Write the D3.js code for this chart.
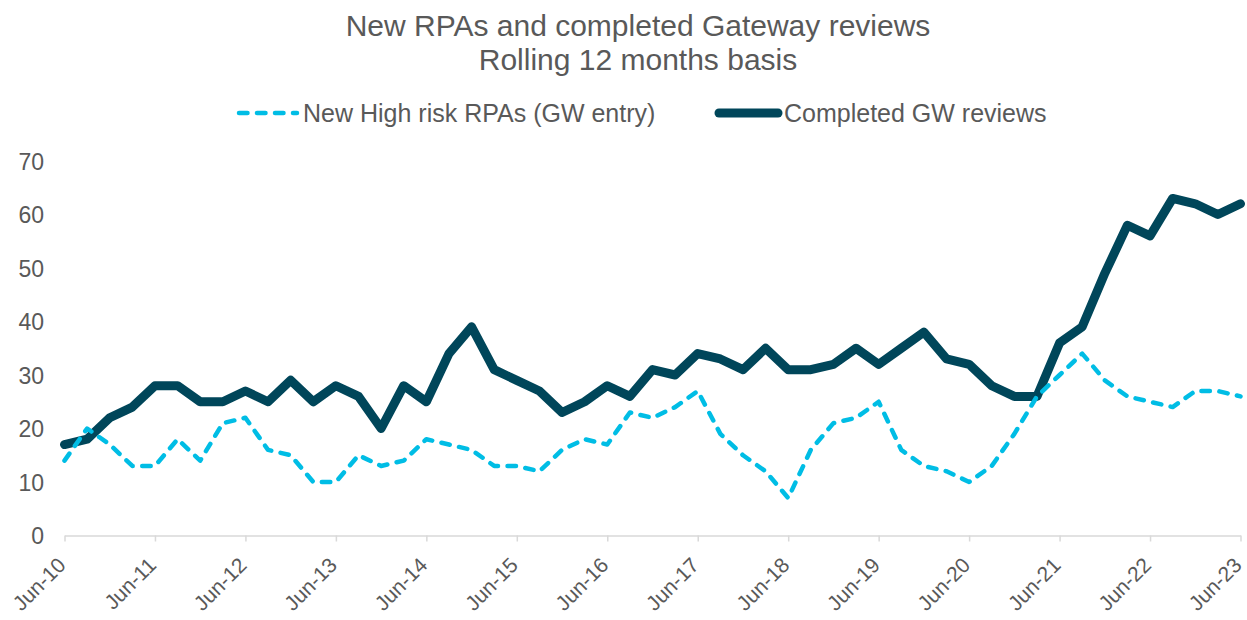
<!DOCTYPE html>
<html lang="en">
  <head>
    <meta charset="UTF-8" />
    <title>New RPAs and completed Gateway reviews</title>
    <style>
      body {
        margin: 0;
        background: #fff;
      }
      svg text {
        font-family: "Liberation Sans", Arial, sans-serif;
        fill: #595959;
      }
    </style>
    <script src="https://d3js.org/d3.v7.min.js"></script>
  </head>
  <body>
    <div id="chart"></div>
    <script>
      const quarters = [
        "Jun-10", "Sep-10", "Dec-10", "Mar-11", "Jun-11", "Sep-11", "Dec-11", "Mar-12",
        "Jun-12", "Sep-12", "Dec-12", "Mar-13", "Jun-13", "Sep-13", "Dec-13", "Mar-14",
        "Jun-14", "Sep-14", "Dec-14", "Mar-15", "Jun-15", "Sep-15", "Dec-15", "Mar-16",
        "Jun-16", "Sep-16", "Dec-16", "Mar-17", "Jun-17", "Sep-17", "Dec-17", "Mar-18",
        "Jun-18", "Sep-18", "Dec-18", "Mar-19", "Jun-19", "Sep-19", "Dec-19", "Mar-20",
        "Jun-20", "Sep-20", "Dec-20", "Mar-21", "Jun-21", "Sep-21", "Dec-21", "Mar-22",
        "Jun-22", "Sep-22", "Dec-22", "Mar-23", "Jun-23",
      ];
      const newHighRisk = [
        14, 20, 17, 13, 13, 18, 14, 21, 22, 16, 15, 10, 10, 15, 13, 14,
        18, 17, 16, 13, 13, 12, 16, 18, 17, 23, 22, 24, 27, 19, 15, 12,
        7, 16, 21, 22, 25, 16, 13, 12, 10, 13, 19, 26, 30, 34, 29, 26,
        25, 24, 27, 27, 26,
      ];
      const completedReviews = [
        17, 18, 22, 24, 28, 28, 25, 25, 27, 25, 29, 25, 28, 26, 20, 28,
        25, 34, 39, 31, 29, 27, 23, 25, 28, 26, 31, 30, 34, 33, 31, 35,
        31, 31, 32, 35, 32, 35, 38, 33, 32, 28, 26, 26, 36, 39, 49, 58,
        56, 63, 62, 60, 62,
      ];
      const yTicks = [0, 10, 20, 30, 40, 50, 60, 70];
      const xTickLabels = quarters.filter((d) => d.startsWith("Jun"));
      const seriesNames = ["New High risk RPAs (GW entry)", "Completed GW reviews"];

      const width = 1247;
      const height = 620;
      const margin = { top: 161, right: 6.5, bottom: 84.5, left: 64.5 };
      const cyan = "#00bde5";
      const dark = "#00465a";

      const svg = d3
        .select("#chart")
        .append("svg")
        .attr("width", width)
        .attr("height", height);

      const x = d3
        .scalePoint()
        .domain(quarters)
        .range([margin.left, width - margin.right]);

      const y = d3
        .scaleLinear()
        .domain([0, 70])
        .range([height - margin.bottom, margin.top]);

      // title
      svg
        .append("text")
        .attr("x", 638)
        .attr("y", 36)
        .style("text-anchor", "middle")
        .style("font-size", "30px")
        .text("New RPAs and completed Gateway reviews");
      svg
        .append("text")
        .attr("x", 638)
        .attr("y", 70)
        .style("text-anchor", "middle")
        .style("font-size", "30px")
        .text("Rolling 12 months basis");

      // x axis
      const xAxis = svg
        .append("g")
        .attr("transform", `translate(0,${height - margin.bottom})`)
        .call(d3.axisBottom(x).tickValues(xTickLabels).tickSize(6).tickSizeOuter(0));
      xAxis.select(".domain").attr("stroke", "#d9d9d9").attr("stroke-width", 1.5);
      xAxis.selectAll(".tick line").attr("stroke", "#d9d9d9").attr("stroke-width", 1.5);
      xAxis
        .selectAll(".tick text")
        .attr("x", 0)
        .attr("y", 0)
        .attr("dy", 0)
        .attr("transform", "translate(2,31) rotate(-45)")
        .style("text-anchor", "end")
        .style("font-size", "21px")
        .attr("fill", null);

      // y axis
      const yAxis = svg
        .append("g")
        .attr("transform", "translate(44,0)")
        .call(d3.axisLeft(y).tickValues(yTicks).tickSize(0).tickPadding(0));
      yAxis.select(".domain").remove();
      yAxis
        .selectAll(".tick text")
        .style("font-size", "23px")
        .attr("dy", "0.36em")
        .attr("fill", null);

      const line = d3
        .line()
        .x((d, i) => x(quarters[i]))
        .y((d) => y(d));

      svg
        .append("path")
        .datum(completedReviews)
        .attr("d", line)
        .attr("fill", "none")
        .attr("stroke", dark)
        .attr("stroke-width", 9)
        .attr("stroke-linejoin", "round")
        .attr("stroke-linecap", "round");

      svg
        .append("path")
        .datum(newHighRisk)
        .attr("d", line)
        .attr("fill", "none")
        .attr("stroke", cyan)
        .attr("stroke-width", 4.5)
        .attr("stroke-dasharray", "8.5 9.5")
        .attr("stroke-linejoin", "round")
        .attr("stroke-linecap", "round");

      // legend
      const legend = svg.append("g");
      legend
        .append("line")
        .attr("x1", 239)
        .attr("x2", 297)
        .attr("y1", 113)
        .attr("y2", 113)
        .attr("stroke", cyan)
        .attr("stroke-width", 4.5)
        .attr("stroke-dasharray", "8.5 9.5")
        .attr("stroke-linecap", "round");
      legend
        .append("text")
        .attr("x", 303)
        .attr("y", 113)
        .attr("dy", "0.36em")
        .style("font-size", "25px")
        .text(seriesNames[0]);
      legend
        .append("line")
        .attr("x1", 719)
        .attr("x2", 778)
        .attr("y1", 113)
        .attr("y2", 113)
        .attr("stroke", dark)
        .attr("stroke-width", 9)
        .attr("stroke-linecap", "round");
      legend
        .append("text")
        .attr("x", 784)
        .attr("y", 113)
        .attr("dy", "0.36em")
        .style("font-size", "25px")
        .text(seriesNames[1]);
    </script>
  </body>
</html>
